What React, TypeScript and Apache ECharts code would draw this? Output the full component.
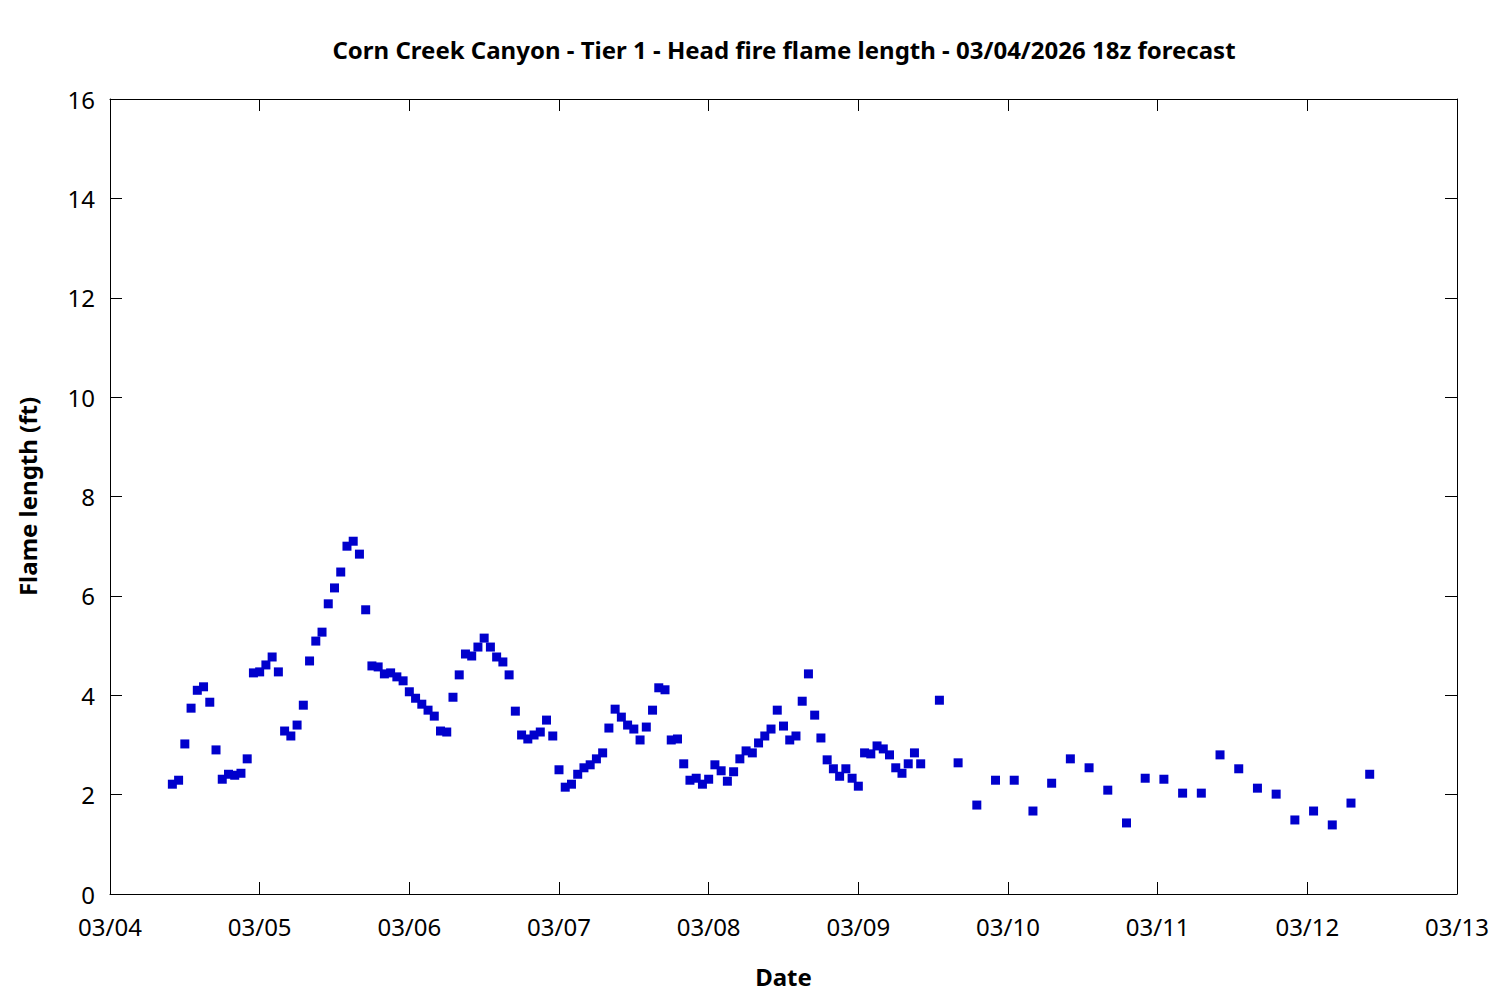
import React, { useEffect, useRef } from "react";
import * as echarts from "echarts";

// Hours since 03/04 00z
const HOURS: number[] = [
  10, 11, 12, 13, 14, 15, 16, 17, 18, 19, 20, 21, 22, 23, 24, 25, 26, 27, 28, 29,
  30, 31, 32, 33, 34, 35, 36, 37, 38, 39, 40, 41, 42, 43, 44, 45, 46, 47, 48, 49,
  50, 51, 52, 53, 54, 55, 56, 57, 58, 59, 60, 61, 62, 63, 64, 65, 66, 67, 68, 69,
  70, 71, 72, 73, 74, 75, 76, 77, 78, 79, 80, 81, 82, 83, 84, 85, 86, 87, 88, 89,
  90, 91, 92, 93, 94, 95, 96, 97, 98, 99, 100, 101, 102, 103, 104, 105, 106, 107, 108, 109,
  110, 111, 112, 113, 114, 115, 116, 117, 118, 119, 120, 121, 122, 123, 124, 125, 126, 127, 128, 129,
  130, 133, 136, 139, 142, 145, 148, 151, 154, 157, 160, 163, 166, 169, 172, 175, 178, 181, 184, 187,
  190, 193, 196, 199, 202,
];

// Flame length (ft)
const FLAME: number[] = [
  2.21, 2.29, 3.02, 3.74, 4.10, 4.17, 3.86, 2.90, 2.31, 2.41, 2.39, 2.43, 2.72, 4.45, 4.47, 4.61, 4.77, 4.47, 3.28, 3.18,
  3.40, 3.80, 4.69, 5.09, 5.27, 5.84, 6.16, 6.48, 7.00, 7.10, 6.84, 5.72, 4.59, 4.57, 4.43, 4.45, 4.37, 4.29, 4.07, 3.94,
  3.82, 3.70, 3.58, 3.28, 3.26, 3.96, 4.41, 4.83, 4.79, 4.97, 5.15, 4.97, 4.77, 4.67, 4.41, 3.68, 3.20, 3.12, 3.20, 3.26,
  3.50, 3.18, 2.50, 2.15, 2.21, 2.41, 2.54, 2.60, 2.72, 2.84, 3.34, 3.72, 3.56, 3.40, 3.32, 3.10, 3.36, 3.70, 4.15, 4.11,
  3.10, 3.12, 2.62, 2.29, 2.33, 2.21, 2.31, 2.60, 2.48, 2.27, 2.46, 2.72, 2.88, 2.84, 3.04, 3.18, 3.32, 3.70, 3.38, 3.10,
  3.18, 3.88, 4.43, 3.60, 3.14, 2.70, 2.52, 2.37, 2.52, 2.33, 2.17, 2.84, 2.82, 2.98, 2.92, 2.80, 2.54, 2.43, 2.62, 2.84,
  2.62, 3.90, 2.64, 1.79, 2.29, 2.29, 1.67, 2.23, 2.72, 2.54, 2.09, 1.43, 2.33, 2.31, 2.03, 2.03, 2.80, 2.52, 2.13, 2.01,
  1.49, 1.67, 1.39, 1.83, 2.41,
];

const DATE_LABELS: string[] = [
  "03/04", "03/05", "03/06", "03/07", "03/08", "03/09", "03/10", "03/11", "03/12", "03/13",
];

const TITLE = "Corn Creek Canyon - Tier 1 - Head fire flame length - 03/04/2026 18z forecast";

export default function App() {
  const ref = useRef<HTMLDivElement>(null);

  useEffect(() => {
    if (!ref.current) return;
    const chart = echarts.init(ref.current, undefined, { renderer: "svg" });
    const font = "'Noto Sans', 'Open Sans', sans-serif";
    const black = "#000000";
    const xMax = (DATE_LABELS.length - 1) * 24;
    const baseX = {
      type: "value" as const,
      min: 0,
      max: xMax,
      interval: 24,
      splitLine: { show: false },
      axisLine: { show: true, onZero: false, lineStyle: { color: black, width: 1 } },
      axisTick: { show: true, inside: true, length: 12, lineStyle: { color: black } },
    };
    const baseY = {
      type: "value" as const,
      min: 0,
      max: 16,
      interval: 2,
      splitLine: { show: false },
      axisLine: { show: true, onZero: false, lineStyle: { color: black, width: 1 } },
      axisTick: { show: true, inside: true, length: 12, lineStyle: { color: black } },
    };
    chart.setOption({
      animation: false,
      backgroundColor: "#ffffff",
      textStyle: { fontFamily: font },
      title: {
        text: TITLE,
        left: 779,
        top: 32,
        textAlign: "center",
        textStyle: { fontFamily: font, fontSize: 24, fontWeight: "bold", color: black },
      },
      grid: { left: 110, right: 43, top: 99, bottom: 106, containLabel: false },
      xAxis: [
        {
          ...baseX,
          position: "bottom",
          name: "Date",
          nameLocation: "middle",
          nameGap: 70,
          nameTextStyle: { fontFamily: font, fontSize: 24, fontWeight: "bold", color: black },
          axisLabel: {
            show: true,
            margin: 20,
            fontFamily: font,
            fontSize: 24,
            color: black,
            formatter: (v: number) => DATE_LABELS[Math.round(v / 24)] ?? "",
          },
        },
        { ...baseX, position: "top", axisLabel: { show: false } },
      ],
      yAxis: [
        {
          ...baseY,
          position: "left",
          name: "Flame length (ft)",
          nameLocation: "middle",
          nameGap: 71,
          nameTextStyle: { fontFamily: font, fontSize: 24, fontWeight: "bold", color: black },
          axisLabel: { show: true, margin: 15, fontFamily: font, fontSize: 24, color: black },
        },
        { ...baseY, position: "right", axisLabel: { show: false } },
      ],
      series: [
        {
          type: "scatter",
          xAxisIndex: 0,
          yAxisIndex: 0,
          symbol: "rect",
          symbolSize: 9,
          itemStyle: { color: "#0000CC", opacity: 1 },
          data: HOURS.map((h, i) => [h, FLAME[i]]),
        },
      ],
    });
    return () => chart.dispose();
  }, []);

  return (
    <div
      ref={ref}
      style={{ position: "fixed", left: 0, top: 0, width: 1500, height: 1000 }}
    />
  );
}
